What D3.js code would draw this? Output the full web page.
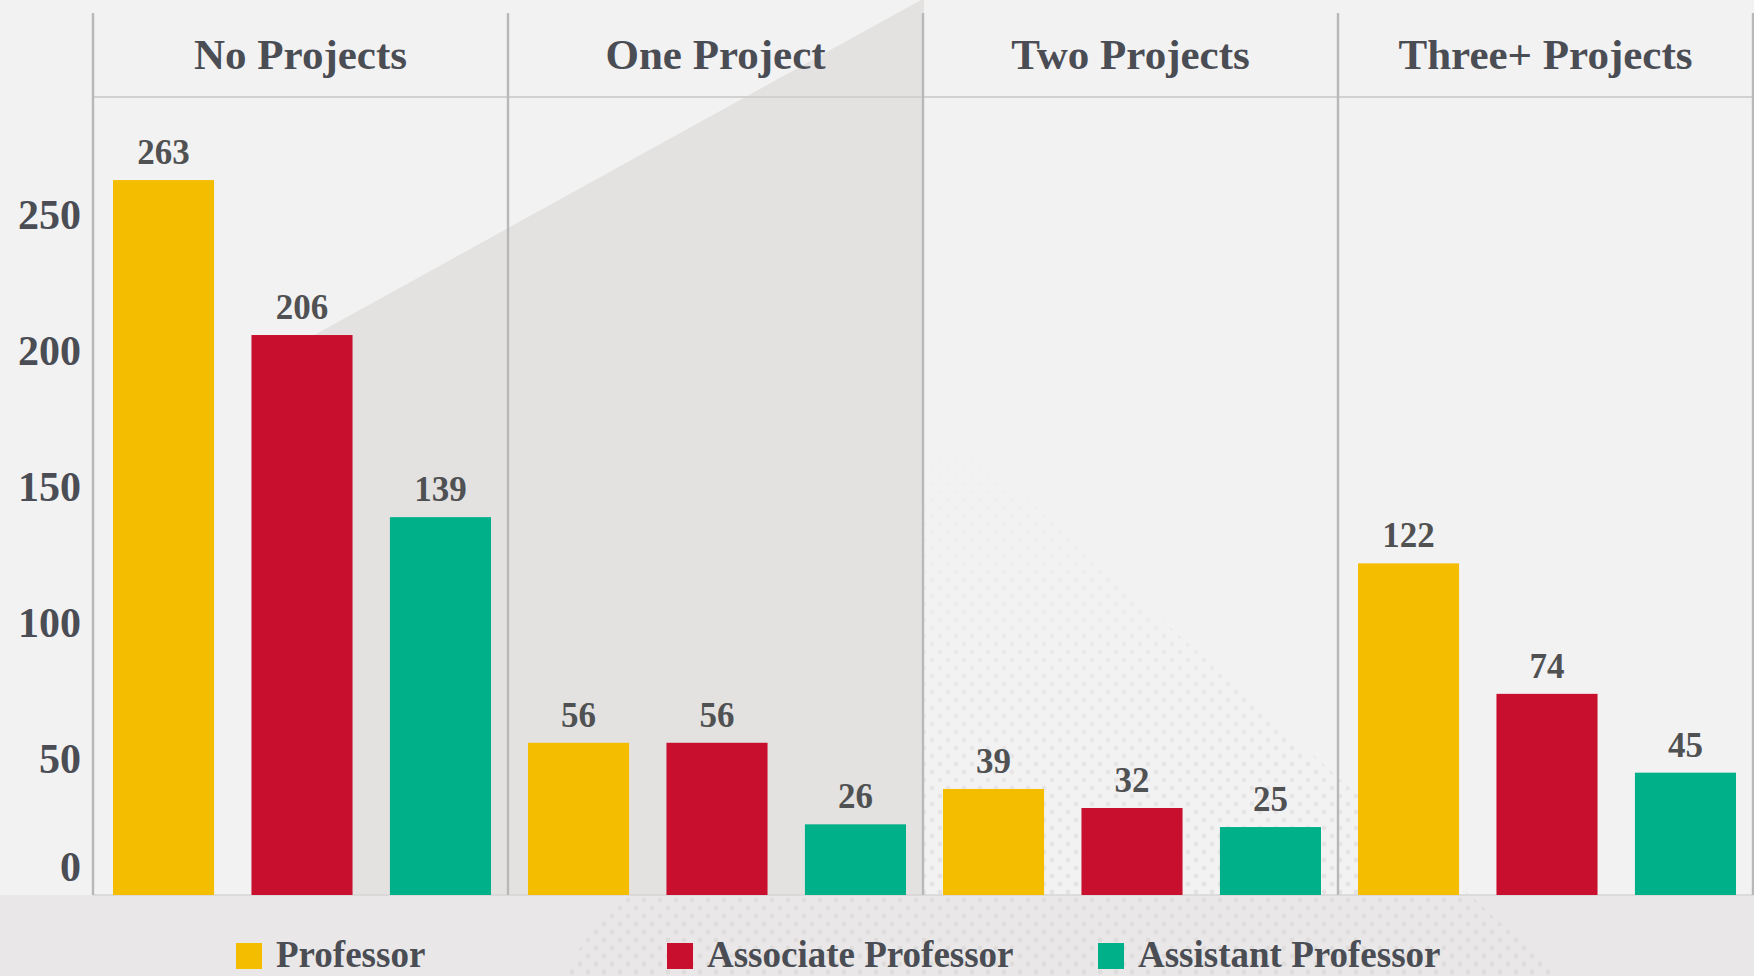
<!DOCTYPE html>
<html>
<head>
<meta charset="utf-8">
<script src="https://cdn.jsdelivr.net/npm/d3@7/dist/d3.min.js"></script>
<style>
  html, body { margin: 0; padding: 0; background: #f3f2f3; }
  svg { display: block; }
  text { font-family: "Liberation Serif", "DejaVu Serif", serif; }
</style>
</head>
<body>
<svg id="chart" width="1754" height="976"></svg>
<script>
// Faculty counts by number of projects and academic rank
const categories = ["No Projects", "One Project", "Two Projects", "Three+ Projects"];
const seriesNames = ["Professor", "Associate Professor", "Assistant Professor"];
const professor = [263, 56, 39, 122];
const associateProfessor = [206, 56, 32, 74];
const assistantProfessor = [139, 26, 25, 45];
const yTickValues = [0, 50, 100, 150, 200, 250];
const seriesColors = ["#f4bd00", "#c8102e", "#00b089"];

const seriesValues = [professor, associateProfessor, assistantProfessor];
const rows = [];
categories.forEach((c, ci) => {
  seriesNames.forEach((s, si) => {
    rows.push({ category: c, series: s, value: seriesValues[si][ci], color: seriesColors[si] });
  });
});

const W = 1754, H = 976;
const left = 93, right = 1753, baseY = 895, headerTop = 13, headerBottom = 97;

const svg = d3.select("#chart");

// background layers
svg.append("rect").attr("x", 0).attr("y", 0).attr("width", W).attr("height", H).attr("fill", "#f3f2f3");
svg.append("rect").attr("x", 0).attr("y", baseY).attr("width", W).attr("height", H - baseY).attr("fill", "#e9e7e7");

// soft halftone dots
const defs = svg.append("defs");
const pat = defs.append("pattern").attr("id", "dots").attr("width", 16).attr("height", 16)
  .attr("patternUnits", "userSpaceOnUse");
pat.append("circle").attr("cx", 4).attr("cy", 4).attr("r", 2.4).attr("fill", "#d8d5d5");
pat.append("circle").attr("cx", 12).attr("cy", 12).attr("r", 2.4).attr("fill", "#d8d5d5");
defs.append("linearGradient").attr("id", "dotFade").attr("x1", 0).attr("y1", 0).attr("x2", 0).attr("y2", 1)
  .call(g => {
    g.append("stop").attr("offset", "0").attr("stop-color", "#fff").attr("stop-opacity", 0);
    g.append("stop").attr("offset", "0.6").attr("stop-color", "#fff").attr("stop-opacity", 0.6);
    g.append("stop").attr("offset", "1").attr("stop-color", "#fff").attr("stop-opacity", 0.9);
  });
defs.append("mask").attr("id", "dotMask")
  .append("polygon").attr("points", "950,430 1560,976 560,976").attr("fill", "url(#dotFade)");
svg.append("rect").attr("x", 0).attr("y", 0).attr("width", W).attr("height", H)
  .attr("fill", "url(#dots)").attr("mask", "url(#dotMask)").attr("opacity", 0.7);

// diagonal shaded wedge
svg.append("polygon")
  .attr("points", "921,0 924,0 924,895 300,895 300,343")
  .attr("fill", "#e3e2e1");

const x0 = d3.scaleBand().domain(categories).range([left, right]).padding(0);
const step = x0.bandwidth();
const x1 = d3.scaleBand().domain(seriesNames).range([20, step - 17]).paddingInner(0.27).paddingOuter(0);
const y = d3.scaleLinear().domain([0, 300]).range([baseY, 79.5]);

// frame lines
const lineColor = "#b8b8b8";
svg.append("line").attr("x1", left).attr("x2", right).attr("y1", headerBottom).attr("y2", headerBottom)
  .attr("stroke", "#d2d1d1").attr("stroke-width", 2);
svg.append("line").attr("x1", left).attr("x2", right).attr("y1", baseY).attr("y2", baseY)
  .attr("stroke", "#d6d4d4").attr("stroke-width", 1.5);
const dividerXs = categories.map(c => x0(c)).concat([right]);
svg.selectAll("line.div").data(dividerXs).join("line")
  .attr("class", "div")
  .attr("x1", d => d).attr("x2", d => d)
  .attr("y1", headerTop).attr("y2", baseY)
  .attr("stroke", lineColor).attr("stroke-width", 2.4);

// panel headings
svg.selectAll("text.head").data(categories).join("text")
  .attr("class", "head")
  .attr("x", d => x0(d) + step / 2)
  .attr("y", 54)
  .attr("dy", "0.35em")
  .attr("text-anchor", "middle")
  .attr("font-size", 43)
  .attr("font-weight", "bold")
  .attr("fill", "#4a4d54")
  .text(d => d);

// y axis
const yAxis = d3.axisLeft(y).tickValues(yTickValues).tickSize(0).tickPadding(0);
const ya = svg.append("g").attr("transform", `translate(${left - 12},0)`).call(yAxis);
ya.select(".domain").remove();
ya.selectAll("text")
  .attr("font-family", "Liberation Serif, serif")
  .attr("font-size", 42)
  .attr("font-weight", "bold")
  .attr("fill", "#4a4d54")
  .attr("dy", d => d === 0 ? "-0.35em" : "0.32em");

// bars
const bars = svg.append("g");
bars.selectAll("rect").data(rows).join("rect")
  .attr("x", d => x0(d.category) + x1(d.series))
  .attr("width", x1.bandwidth())
  .attr("y", d => y(d.value))
  .attr("height", d => y(0) - y(d.value))
  .attr("fill", d => d.color);

// value labels
bars.selectAll("text").data(rows).join("text")
  .attr("x", d => x0(d.category) + x1(d.series) + x1.bandwidth() / 2)
  .attr("y", d => y(d.value) - 16)
  .attr("text-anchor", "middle")
  .attr("font-size", 35)
  .attr("font-weight", "bold")
  .attr("fill", "#505152")
  .text(d => d.value);

// legend along the bottom edge
const legendX = [236, 667, 1098];
const legend = svg.append("g");
const items = legend.selectAll("g").data(seriesNames).join("g")
  .attr("transform", (d, i) => `translate(${legendX[i]},0)`);
items.append("rect").attr("x", 0).attr("y", 943).attr("width", 26).attr("height", 26)
  .attr("fill", (d, i) => seriesColors[i]);
items.append("text").attr("x", 40).attr("y", 967)
  .attr("font-size", 37)
  .attr("font-weight", "bold")
  .attr("fill", "#4a4d54")
  .text(d => d);
</script>
</body>
</html>
